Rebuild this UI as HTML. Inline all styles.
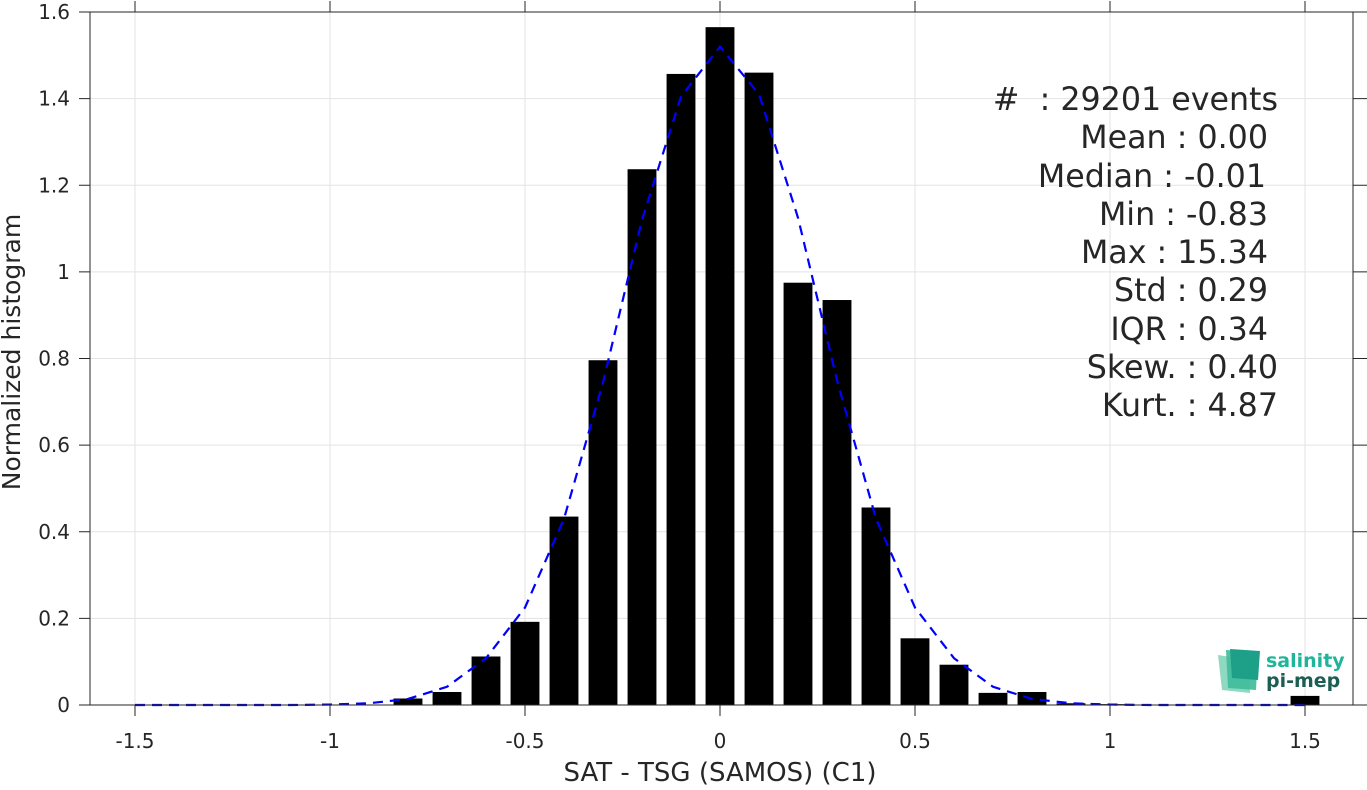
<!DOCTYPE html>
<html><head><meta charset="utf-8"><style>
body{margin:0;background:#fff;}
svg text{font-family:"DejaVu Sans","Liberation Sans",sans-serif;fill:#262626;white-space:pre;}
</style></head><body>
<svg id="chart" width="1367" height="785" xmlns="http://www.w3.org/2000/svg">
<g id="grid"></g>
<g id="bars"></g>
<path id="fit" fill="none" stroke="#0000ff" stroke-width="2.2" stroke-dasharray="10,7"/>
<rect x="90" y="12" width="1263" height="693" fill="none" stroke="#262626" stroke-width="1"/>
<g id="ticks"></g>
<text x="720" y="781" font-size="26" text-anchor="middle">SAT - TSG (SAMOS) (C1)</text>
<text transform="translate(20,352) rotate(-90)" font-size="25" text-anchor="middle">Normalized histogram</text>
<g font-size="31.7" text-anchor="end">
<text x="1278" y="110">#  : 29201 events</text>
<text x="1268" y="148">Mean : 0.00</text>
<text x="1266" y="187">Median : -0.01</text>
<text x="1268" y="225">Min : -0.83</text>
<text x="1268" y="263">Max : 15.34</text>
<text x="1268" y="301">Std : 0.29</text>
<text x="1268" y="340">IQR : 0.34</text>
<text x="1278" y="378">Skew. : 0.40</text>
<text x="1278" y="416">Kurt. : 4.87</text>
</g>
<g>
<path d="M1218,655 L1222,690 L1250,693 L1250,660 Z" fill="#8fd9c0"/>
<path d="M1226,650 L1228,688 L1256,690 L1258,652 Z" fill="#3dbb9a" opacity="0.9"/>
<path d="M1230,649 L1260,651 L1258,680 L1232,678 Z" fill="#1e9f88"/>
<text x="1266" y="667" font-size="19" font-weight="bold" style="fill:#1fb59a">salinity</text>
<text x="1266" y="687" font-size="19" font-weight="bold" style="fill:#1d5e54">pi-mep</text>
</g>
</svg>
<script>
const xTicks=[-1.5,-1,-0.5,0,0.5,1,1.5];
const xTickLabels=["-1.5","-1","-0.5","0","0.5","1","1.5"];
const yTicks=[0,0.2,0.4,0.6,0.8,1,1.2,1.4,1.6];
const yTickLabels=["0","0.2","0.4","0.6","0.8","1","1.2","1.4","1.6"];
const binCenters=[-0.8,-0.7,-0.6,-0.5,-0.4,-0.3,-0.2,-0.1,0,0.1,0.2,0.3,0.4,0.5,0.6,0.7,0.8,0.9,1.0,1.5];
const binValues=[0.015,0.03,0.112,0.192,0.435,0.796,1.237,1.457,1.565,1.46,0.975,0.935,0.456,0.154,0.093,0.028,0.03,0.004,0.002,0.021];
const fitX=[-1.5,-1.4,-1.3,-1.2,-1.1,-1.0,-0.9,-0.8,-0.7,-0.6,-0.5,-0.4,-0.3,-0.2,-0.1,0,0.1,0.2,0.3,0.4,0.5,0.6,0.7,0.8,0.9,1.0,1.1,1.2,1.3,1.4,1.5];
const fitY=[0,0,0,0,0,0.001,0.004,0.014,0.042,0.108,0.225,0.43,0.745,1.12,1.405,1.52,1.41,1.125,0.75,0.43,0.225,0.108,0.042,0.014,0.004,0.001,0,0,0,0,0];
const NS="http://www.w3.org/2000/svg";
const X=v=>720+v*390, Y=v=>705-v*433.125;
function mk(t,a,p){const e=document.createElementNS(NS,t);for(const k in a)e.setAttribute(k,a[k]);p.appendChild(e);return e;}
const grid=document.getElementById('grid'),ticks=document.getElementById('ticks'),bars=document.getElementById('bars');
xTicks.forEach((v,i)=>{
 const g=mk('line',{x1:X(v),x2:X(v),y1:12,y2:705,stroke:'#e3e3e3'},grid);
 
 
 mk('line',{x1:X(v),x2:X(v),y1:705,y2:716,stroke:'#262626'},ticks);
 mk('line',{x1:X(v),x2:X(v),y1:1,y2:12,stroke:'#262626'},ticks);
 const t=mk('text',{x:X(v),y:748,'font-size':20,'text-anchor':'middle'},ticks);
 t.textContent=xTickLabels[i];
 
 
});
yTicks.forEach((v,i)=>{
 const g=mk('line',{x1:90,x2:1353,y1:Y(v),y2:Y(v),stroke:'#e3e3e3'},grid);
 
 
 mk('line',{x1:79,x2:90,y1:Y(v),y2:Y(v),stroke:'#262626'},ticks);
 mk('line',{x1:1353,x2:1367,y1:Y(v),y2:Y(v),stroke:'#262626'},ticks);
 const t=mk('text',{x:70,y:Y(v)+7,'font-size':20,'text-anchor':'end'},ticks);
 t.textContent=yTickLabels[i];
 
 
});
binCenters.forEach((c,i)=>{
 const w=0.074*390;
 const r=mk('rect',{x:X(c)-w/2,y:Y(binValues[i]),width:w,height:705-Y(binValues[i]),fill:'#000'},bars);
 
 
});
document.getElementById('fit').setAttribute('d',fitX.map((x,i)=>(i?'L':'M')+X(x)+','+Y(fitY[i])).join(' '));
</script>
</body></html>
